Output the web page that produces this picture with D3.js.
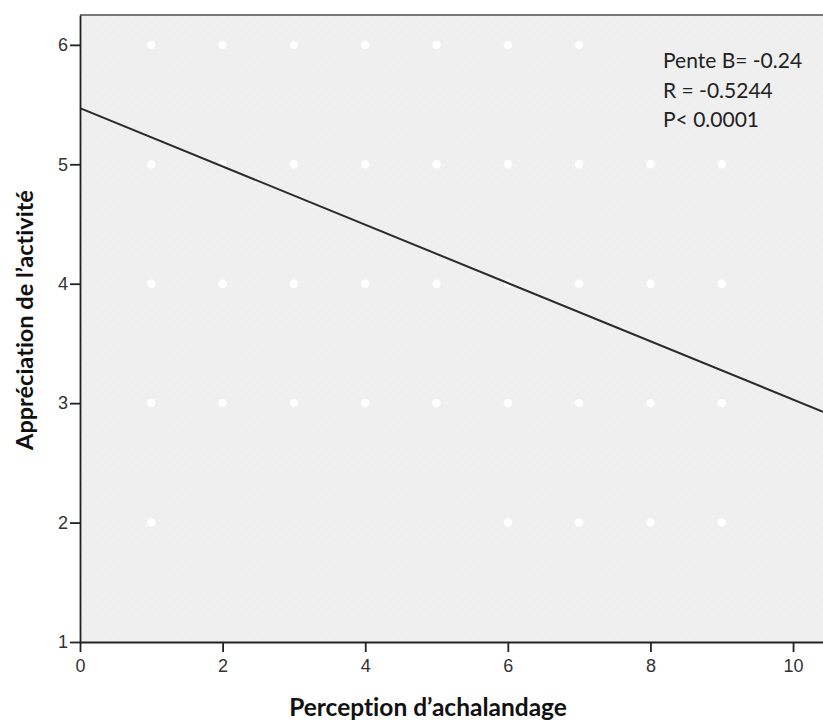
<!DOCTYPE html>
<html>
<head>
<meta charset="utf-8">
<script src="https://cdn.jsdelivr.net/npm/d3@7"></script>
<style>
html,body{margin:0;padding:0;background:#fff;}
svg{display:block;}
text{font-variant-ligatures:none;}
</style>
</head>
<body>
<svg id="chart" width="823" height="721"></svg>
<script>
// Data
const pointsX = [1,2,3,4,5,6,7, 1,2,3,4,5,6,7,8,9, 1,2,3,4,5,6,7,8,9, 1,2,3,4,5,6,7,8,9, 1,6,7,8,9];
const pointsY = [6,6,6,6,6,6,6, 5,5,5,5,5,5,5,5,5, 4,4,4,4,4,4,4,4,4, 3,3,3,3,3,3,3,3,3, 2,2,2,2,2];
const xTicks = [0,2,4,6,8,10];
const yTicks = [1,2,3,4,5,6];
const intercept = 5.47;
const slope = -0.244;
const annotation = ["Pente B= -0.24", "R = -0.5244", "P< 0.0001"];
const xTitle = "Perception d\u2019achalandage";
const yTitle = "Appr\u00e9ciation de l\u2019activit\u00e9";

(function () {
const svg = d3.select("#chart");
const pL = 80, pT = 15, pR = 823, pB = 642;
const x = d3.scaleLinear().domain([0, 10.42]).range([pL, pR]);
const y = d3.scaleLinear().domain([1, 6.25]).range([pB, pT]);

// plot background
svg.append("rect").attr("x", pL).attr("y", pT)
  .attr("width", pR - pL).attr("height", pB - pT)
  .attr("fill", "#efefef");

// subtle dot texture
const defs = svg.append("defs");
const pat = defs.append("pattern").attr("id","tex").attr("width",9).attr("height",9)
  .attr("patternUnits","userSpaceOnUse");
pat.append("rect").attr("x",2).attr("y",3).attr("width",1).attr("height",1).attr("fill","#f8f8f8");
pat.append("rect").attr("x",6).attr("y",7).attr("width",1).attr("height",1).attr("fill","#f8f8f8");
svg.append("rect").attr("x", pL).attr("y", pT)
  .attr("width", pR - pL).attr("height", pB - pT)
  .attr("fill", "url(#tex)");

// top border
svg.append("line").attr("x1", pL).attr("x2", pR).attr("y1", pT).attr("y2", pT)
  .attr("stroke", "#777").attr("stroke-width", 2);

// points
const pts = pointsX.map((d, i) => ({x: d, y: pointsY[i]}));
svg.append("g").selectAll("circle").data(pts).join("circle")
  .attr("cx", d => x(d.x)).attr("cy", d => y(d.y)).attr("r", 4.2)
  .attr("fill", "#ffffff");

// regression line
const xd = x.domain();
svg.append("line")
  .attr("x1", x(xd[0])).attr("y1", y(intercept + slope * xd[0]))
  .attr("x2", x(xd[1])).attr("y2", y(intercept + slope * xd[1]))
  .attr("stroke", "#2a2a2a").attr("stroke-width", 2);

// axes
const xAxis = d3.axisBottom(x).tickValues(xTicks).tickFormat(d3.format("d"))
  .tickSize(10).tickSizeOuter(0).tickPadding(7);
const gx = svg.append("g").attr("transform", `translate(0,${pB})`).call(xAxis);
gx.attr("font-size", 18).attr("font-family", "'Liberation Sans', Arial, sans-serif");
gx.select(".domain").attr("stroke", "#222").attr("stroke-width", 1.8);
gx.selectAll(".tick line").attr("stroke", "#222").attr("stroke-width", 1.8);
gx.selectAll(".tick text").attr("fill", "#333").attr("font-size", 18);

const yAxis = d3.axisLeft(y).tickValues(yTicks).tickFormat(d3.format("d"))
  .tickSize(10).tickSizeOuter(0).tickPadding(2);
const gy = svg.append("g").attr("transform", `translate(${pL},0)`).call(yAxis);
gy.attr("font-size", 18).attr("font-family", "'Liberation Sans', Arial, sans-serif");
gy.select(".domain").attr("stroke", "#222").attr("stroke-width", 1.8);
gy.selectAll(".tick line").attr("stroke", "#222").attr("stroke-width", 1.8);
gy.selectAll(".tick text").attr("fill", "#333").attr("font-size", 18);

// annotation
const ann = svg.append("g").attr("font-family", "Lato, 'Open Sans', sans-serif")
  .attr("font-size", 21).attr("fill", "#222");
annotation.forEach((t, i) => {
  ann.append("text").attr("x", 663).attr("y", 68 + i * 29.5).text(t);
});

// axis titles
svg.append("text").attr("x", 428).attr("y", 716).attr("text-anchor", "middle")
  .attr("font-family", "Lato, 'Open Sans', sans-serif").attr("font-weight", "bold")
  .attr("font-size", 24.5).attr("fill", "#111").text(xTitle);
svg.append("text").attr("transform", "translate(33,320) rotate(-90)").attr("text-anchor", "middle")
  .attr("font-family", "Lato, 'Open Sans', sans-serif").attr("font-weight", "bold")
  .attr("font-size", 23.5).attr("fill", "#111").text(yTitle);
})();
</script>
</body>
</html>
